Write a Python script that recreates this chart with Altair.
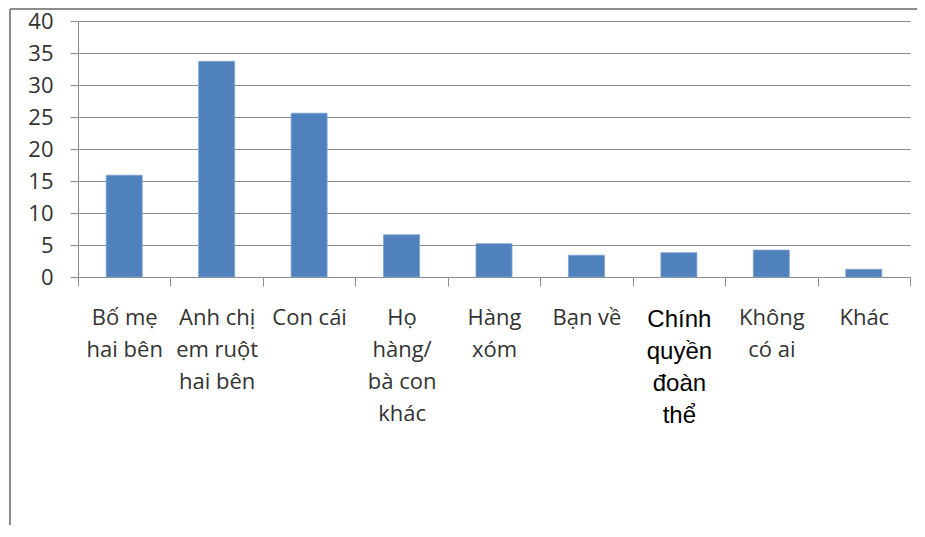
import altair as alt
import pandas as pd

categories = [
    "Bố mẹ|hai bên",
    "Anh chị|em ruột|hai bên",
    "Con cái",
    "Họ|hàng/|bà con|khác",
    "Hàng|xóm",
    "Bạn về",
    "Chính|quyền|đoàn|thể",
    "Không|có ai",
    "Khác",
]
values = [15.9, 33.7, 25.6, 6.6, 5.2, 3.4, 3.8, 4.2, 1.2]
y_ticks = [0, 5, 10, 15, 20, 25, 30, 35, 40]

special = "Chính|quyền|đoàn|thể"

df = pd.DataFrame({"cat": categories, "val": values})

GRID = "#8c8c8c"
W, H = 832, 256

bars = alt.Chart(df).mark_bar(size=36, color="#4F81BD", stroke="#7DA2CE", strokeWidth=0.8).encode(
    x=alt.X(
        "cat:N",
        sort=categories,
        scale=alt.Scale(paddingInner=0, paddingOuter=0, round=False),
        axis=alt.Axis(
            title=None,
            labelAngle=0,
            labelExpr="split(datum.label, '|')",
            labelLineHeight=32,
            labelFontSize={"condition": {"test": f"datum.value == '{special}'", "value": 24}, "value": 22},
            labelFont={"condition": {"test": f"datum.value == '{special}'", "value": "Liberation Sans"}, "value": "Open Sans"},
            labelColor={"condition": {"test": f"datum.value == '{special}'", "value": "#000000"}, "value": "#333333"},
            labelPadding=21,
            labelLimit=0,
            labelOverlap=False,
            labelBaseline="top",
            tickBand="extent",
            tickSize=9,
            tickColor=GRID,
            domainColor=GRID,
            grid=False,
        ),
    ),
    y=alt.Y(
        "val:Q",
        scale=alt.Scale(domain=[0, 40], nice=False),
        axis=alt.Axis(
            title=None,
            values=y_ticks,
            grid=True,
            gridColor=GRID,
            gridWidth=1,
            tickSize=8,
            tickColor=GRID,
            domainColor=GRID,
            labelFont="Open Sans",
            labelFontSize=22,
            labelColor="#333333",
            labelPadding=17,
        ),
    ),
)

frame_df = pd.DataFrame({"a": [0]})
top_line = alt.Chart(frame_df).mark_rule(color=GRID, strokeWidth=2).encode(
    x=alt.value(-68), x2=alt.value(W + 7), y=alt.value(-12)
)
left_line = alt.Chart(frame_df).mark_rule(color=GRID, strokeWidth=2).encode(
    x=alt.value(-68), y=alt.value(-12), y2=alt.value(H + 248)
)

chart = (
    alt.layer(bars, top_line, left_line)
    .properties(
        width=W,
        height=H,
        autosize=alt.AutoSizeParams(type="none"),
        padding={"left": 70, "top": 13, "right": 7, "bottom": 248},
        background="white",
    )
    .configure_view(stroke=None)
)

chart.save("out.html", embed_options={"renderer": "svg", "actions": False})
